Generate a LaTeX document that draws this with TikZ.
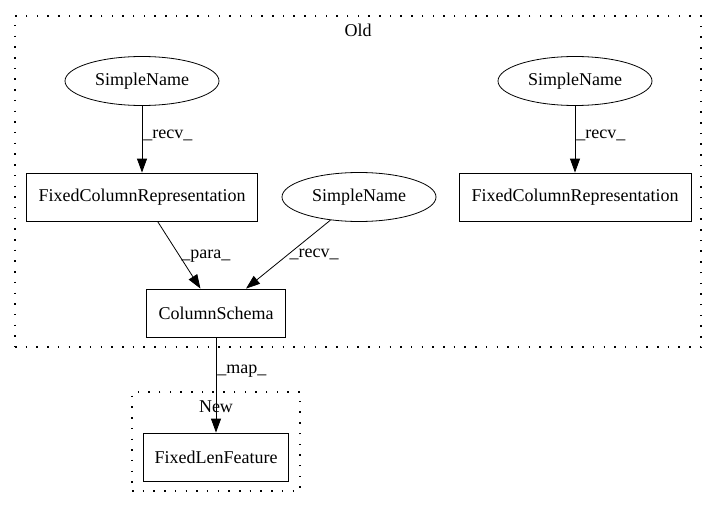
\documentclass[tikz,border=0pt]{standalone}
\usepackage{fontspec}
\setmainfont{Liberation Serif}
\usetikzlibrary{shapes.geometric,arrows.meta}
\tikzset{
	trait/.style={line width=0.8pt},
	boite/.style={draw, trait, rectangle, minimum height=48, inner sep=0},
	ovale/.style={draw, trait, ellipse, minimum width=154, minimum height=49, inner sep=0}
}
\newcommand{\fleche}[4]{\draw[trait,-{Triangle[length=14pt,width=10pt]}] (#1) -- node[right=1pt, pos=#3, inner sep=0] {#4} (#2)}
\newcommand{\grappe}[5]{\node[draw, dash pattern=on 1.5pt off 9.2pt, line width=1.1pt, minimum width=#3, minimum height=#4, inner sep=0] (#1) at (#2) {};
	\node at (#5)}

\begin{document}
\begin{tikzpicture}[x=1pt, y=-1pt, font=\fontsize{18}{21}\selectfont]
\useasboundingbox (0,0) rectangle (717,508);
%Clusters
	\grappe{old}{358,181.5}{686}{331}{358,30} {Old};
	\grappe{new}{216,441.5}{168}{99}{216,407} {New};
%Nodes of Old
	\node[ovale] (sn1) at (142,81) {SimpleName};
	\node[ovale] (sn2) at (575,81) {SimpleName};
	\node[ovale] (sn3) at (359,197) {SimpleName};
	\node[boite, minimum width=231] (fcr1) at (142,197) {FixedColumnRepresentation};
	\node[boite, minimum width=232] (fcr2) at (575,197) {FixedColumnRepresentation};
	\node[boite, minimum width=139] (cs) at (216,313) {ColumnSchema};
%Node of New
	\node[boite, minimum width=145] (flf) at (216,457) {FixedLenFeature};
%Edges
	\fleche{sn1}{fcr1}{0.45}{\_recv\_};
	\fleche{sn2}{fcr2}{0.45}{\_recv\_};
	\fleche{fcr1}{cs}{0.52}{\_para\_};
	\fleche{sn3}{cs}{0.5}{\_recv\_};
	\fleche{cs}{flf}{0.36}{\_map\_};
\end{tikzpicture}
\end{document}
